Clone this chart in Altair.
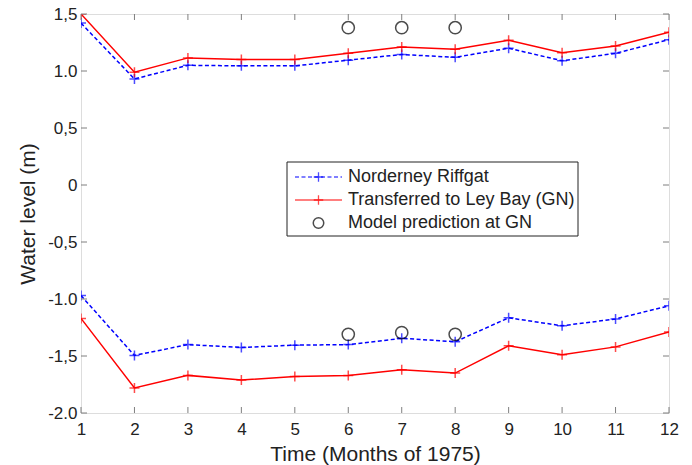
import altair as alt
import pandas as pd

months = list(range(1, 13))
nord_upper = [1.42, 0.93, 1.05, 1.045, 1.045, 1.095, 1.145, 1.12, 1.20, 1.09, 1.155, 1.275]
trans_upper = [1.50, 0.99, 1.115, 1.10, 1.10, 1.155, 1.21, 1.19, 1.27, 1.16, 1.22, 1.34]
nord_lower = [-0.97, -1.495, -1.40, -1.425, -1.405, -1.40, -1.345, -1.375, -1.165, -1.235, -1.175, -1.06]
trans_lower = [-1.17, -1.78, -1.67, -1.71, -1.68, -1.67, -1.62, -1.65, -1.41, -1.49, -1.42, -1.29]
model_months = [6, 7, 8]
model_upper = [1.38, 1.38, 1.38]
model_lower = [-1.31, -1.295, -1.31]

y_tick_values = [1.5, 1.0, 0.5, 0.0, -0.5, -1.0, -1.5, -2.0]
y_tick_labels = ["1,5", "1.0", "0,5", "0", "-0,5", "-1.0", "-1,5", "-2.0"]
legend_labels = ["Norderney Riffgat", "Transferred to Ley Bay (GN)", "Model prediction at GN"]

W, H = 588, 399
BLUE = "#0000ff"
RED = "#ff0000"
PLUS = "M-1,0L1,0M0,-1L0,1"
FONT = "Liberation Sans"
TXT = "#222222"

nord = pd.DataFrame({"m": months * 2, "v": nord_upper + nord_lower,
                     "part": ["upper"] * 12 + ["lower"] * 12})
trans = pd.DataFrame({"m": months * 2, "v": trans_upper + trans_lower,
                      "part": ["upper"] * 12 + ["lower"] * 12})
model = pd.DataFrame({"m": model_months * 2, "v": model_upper + model_lower})

label_expr = " : ".join(
    f"datum.value == {v} ? '{l}'" for v, l in zip(y_tick_values, y_tick_labels)
) + " : ''"

xs = alt.Scale(domain=[1, 12], nice=False, zero=False)
ys = alt.Scale(domain=[-2, 1.5], nice=False, zero=False)

xax = alt.Axis(values=months, ticks=False, domain=False, grid=False, labelFontSize=17,
               labelFont=FONT, labelColor=TXT, labelPadding=8, title="Time (Months of 1975)",
               titleFont=FONT, titleFontSize=21, titleFontWeight="normal", titleColor=TXT,
               titlePadding=6, labelFlush=False)
yax = alt.Axis(values=y_tick_values, ticks=False, domain=False, grid=False, labelFontSize=17,
               labelFont=FONT, labelColor=TXT, labelPadding=4, labelExpr=label_expr,
               title="Water level (m)", titleFont=FONT, titleFontSize=21,
               titleFontWeight="normal", titleColor=TXT, titlePadding=9, labelFlush=False)

base_x = alt.X("m:Q", scale=xs, axis=xax)
base_y = alt.Y("v:Q", scale=ys, axis=yax)

nord_line = alt.Chart(nord).mark_line(color=BLUE, strokeWidth=1.5, strokeDash=[4, 2.5], clip=True).encode(
    x=base_x, y=base_y, detail="part:N")
nord_pts = alt.Chart(nord).mark_point(shape=PLUS, color=BLUE, size=100, strokeWidth=1.5, filled=False, clip=True).encode(
    x="m:Q", y="v:Q")
trans_line = alt.Chart(trans).mark_line(color=RED, strokeWidth=1.5, clip=True).encode(
    x="m:Q", y="v:Q", detail="part:N")
trans_pts = alt.Chart(trans).mark_point(shape=PLUS, color=RED, size=100, strokeWidth=1.5, filled=False, clip=True).encode(
    x="m:Q", y="v:Q")
model_pts = alt.Chart(model).mark_point(shape="circle", color="black", size=150, strokeWidth=1.5, filled=False).encode(
    x="m:Q", y="v:Q")

# inward ticks (MATLAB box style)
xt = pd.DataFrame({"m": months})
yt = pd.DataFrame({"v": y_tick_values})
tick_style = dict(color="#7f7f7f", strokeWidth=1)
ticks = [
    alt.Chart(xt).mark_rule(**tick_style).encode(x="m:Q", y=alt.value(H), y2=alt.value(H - 6)),
    alt.Chart(xt).mark_rule(**tick_style).encode(x="m:Q", y=alt.value(0), y2=alt.value(6)),
    alt.Chart(yt).mark_rule(**tick_style).encode(y="v:Q", x=alt.value(0), x2=alt.value(6)),
    alt.Chart(yt).mark_rule(**tick_style).encode(y="v:Q", x=alt.value(W), x2=alt.value(W - 6)),
]

# manual legend
one = pd.DataFrame({"a": [0]})
lx0, lx1, ly0, ly1 = 206, 497, 148, 222
row_y = [163, 186, 209]
seg_x0, seg_x1, txt_x = 214, 261, 267
legend = [
    alt.Chart(one).mark_rect(fill="white", stroke="#222222", strokeWidth=1).encode(
        x=alt.value(lx0), x2=alt.value(lx1), y=alt.value(ly0), y2=alt.value(ly1)),
    alt.Chart(one).mark_rule(color=BLUE, strokeWidth=1.2, strokeDash=[4, 2.5]).encode(
        x=alt.value(seg_x0), x2=alt.value(seg_x1), y=alt.value(row_y[0])),
    alt.Chart(one).mark_point(shape=PLUS, color=BLUE, size=90, strokeWidth=1.3, filled=False).encode(
        x=alt.value((seg_x0 + seg_x1) / 2), y=alt.value(row_y[0])),
    alt.Chart(one).mark_rule(color=RED, strokeWidth=1.2).encode(
        x=alt.value(seg_x0), x2=alt.value(seg_x1), y=alt.value(row_y[1])),
    alt.Chart(one).mark_point(shape=PLUS, color=RED, size=90, strokeWidth=1.3, filled=False).encode(
        x=alt.value((seg_x0 + seg_x1) / 2), y=alt.value(row_y[1])),
    alt.Chart(one).mark_point(shape="circle", color="black", size=110, strokeWidth=1.5, filled=False).encode(
        x=alt.value((seg_x0 + seg_x1) / 2), y=alt.value(row_y[2])),
]
for lab, ry in zip(legend_labels, row_y):
    legend.append(
        alt.Chart(pd.DataFrame({"t": [lab]})).mark_text(
            align="left", baseline="middle", font=FONT, fontSize=18, color=TXT).encode(
            text="t:N", x=alt.value(txt_x), y=alt.value(ry)))

chart = alt.layer(
    nord_line, nord_pts, trans_line, trans_pts, model_pts, *ticks, *legend
).properties(
    width=W, height=H, autosize=alt.AutoSizeParams(type="none"),
    padding={"left": 81, "top": 14, "right": 23, "bottom": 52},
).configure_view(stroke="#7f7f7f", strokeWidth=1.5).configure(background="white")

chart.save("out.html", embed_options={"renderer": "svg", "actions": False})
